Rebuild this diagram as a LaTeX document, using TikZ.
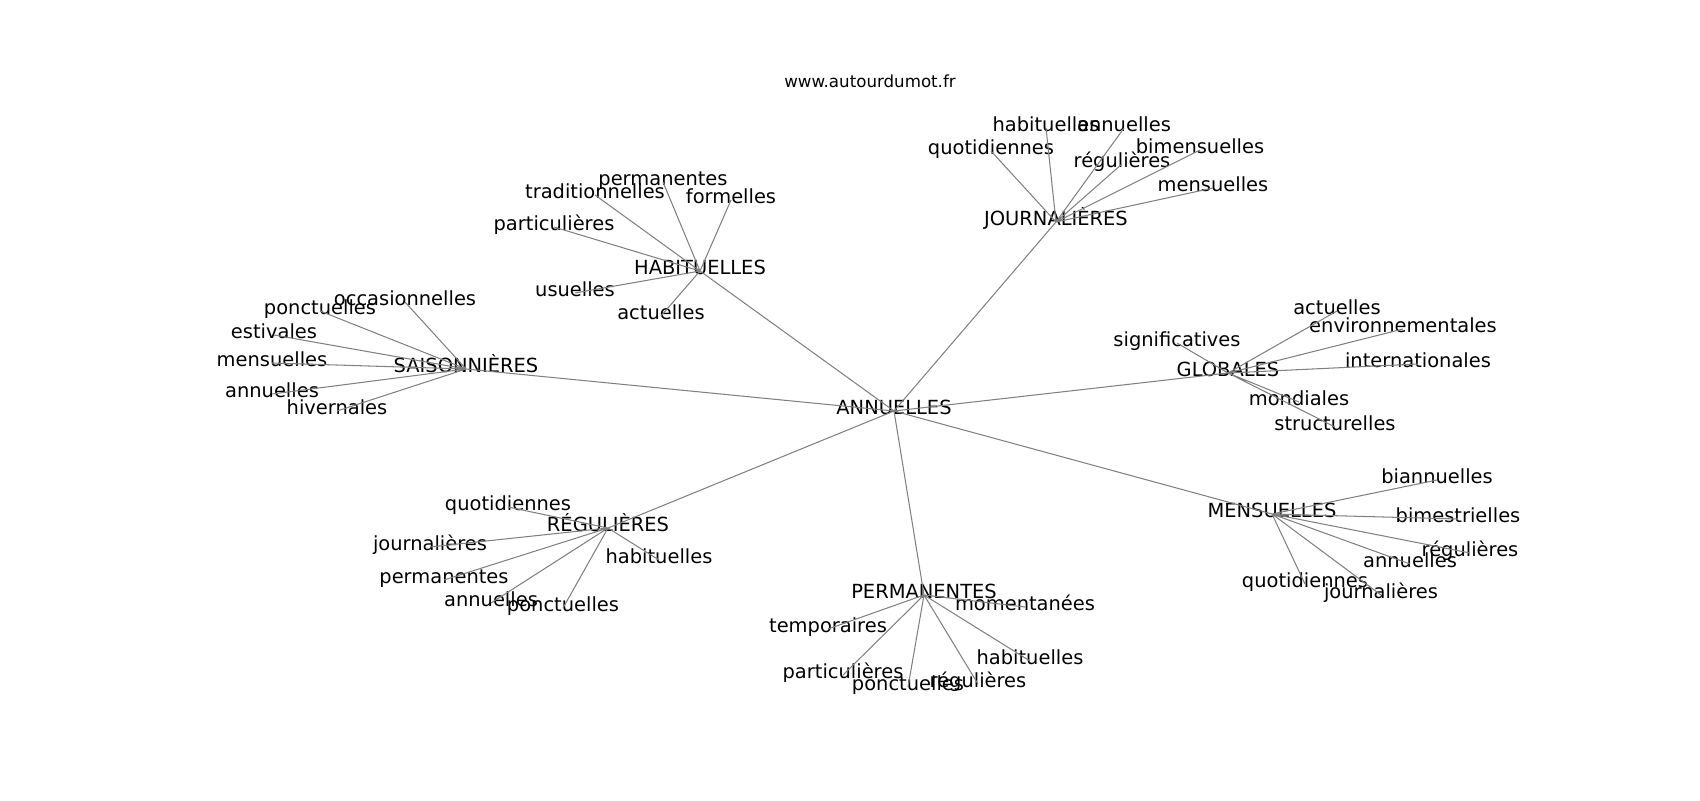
\documentclass[tikz,border=0pt]{standalone}
\usepackage{fontspec}
\setmainfont{DejaVu Sans}
\usepackage{xcolor}
\definecolor{EdgeGray}{HTML}{808080}
\tikzset{
  word/.style={inner sep=0pt,text height=0.76em,text depth=0.21em,
    font=\fontsize{14}{16}\selectfont},
  edge/.style={EdgeGray,line width=0.75pt}
}

\begin{document}
\begin{tikzpicture}[x=0.72pt,y=-0.72pt]
   \useasboundingbox (0,-4) rectangle (1700,796);
   \node[inner sep=0pt,font=\fontsize{12}{14}\selectfont] (site) at (870,77) {www.autourdumot.fr};

   % hubs
   \node[word] (ann) at (894,407) {ANNUELLES};
   \node[word] (hab) at (700,267) {HABITUELLES};
   \node[word] (jou) at (1056,218) {JOURNALIÈRES};
   \node[word] (sai) at (466,365) {SAISONNIÈRES};
   \node[word] (glo) at (1228,369) {GLOBALES};
   \node[word] (men) at (1272,510) {MENSUELLES};
   \node[word] (reg) at (608,524) {RÉGULIÈRES};
   \node[word] (per) at (924,591) {PERMANENTES};

   % habituelles
   \node[word] (habperm) at (663,178) {permanentes};
   \node[word] (habtrad) at (595,191) {traditionnelles};
   \node[word] (habform) at (731,196) {formelles};
   \node[word] (habpart) at (554,223) {particulières};
   \node[word] (habusu) at (575,289) {usuelles};
   \node[word] (habact) at (661,312) {actuelles};

   % saisonnieres
   \node[word] (saiocc) at (405,298) {occasionnelles};
   \node[word] (saiponc) at (320,307) {ponctuelles};
   \node[word] (saiest) at (274,331) {estivales};
   \node[word] (saimens) at (272,359) {mensuelles};
   \node[word] (saiann) at (272,390) {annuelles};
   \node[word] (saihiv) at (337,407) {hivernales};

   % journalieres
   \node[word] (jouhab) at (1046,124) {habituelles};
   \node[word] (jouann) at (1124,124) {annuelles};
   \node[word] (jouquot) at (991,147) {quotidiennes};
   \node[word] (joubim) at (1200,146) {bimensuelles};
   \node[word] (joureg) at (1122,160) {régulières};
   \node[word] (joumens) at (1213,184) {mensuelles};

   % globales
   \node[word] (gloact) at (1337,307) {actuelles};
   \node[word] (gloenv) at (1403,325) {environnementales};
   \node[word] (glosig) at (1177,339) {significatives};
   \node[word] (gloint) at (1418,360) {internationales};
   \node[word] (glomond) at (1299,398) {mondiales};
   \node[word] (glostr) at (1335,423) {structurelles};

   % mensuelles
   \node[word] (menbia) at (1437,476) {biannuelles};
   \node[word] (menbim) at (1458,515) {bimestrielles};
   \node[word] (menreg) at (1470,549) {régulières};
   \node[word] (menann) at (1410,560) {annuelles};
   \node[word] (menquot) at (1305,580) {quotidiennes};
   \node[word] (menjour) at (1381,591) {journalières};

   % regulieres
   \node[word] (regquot) at (508,503) {quotidiennes};
   \node[word] (regjour) at (430,543) {journalières};
   \node[word] (reghab) at (659,556) {habituelles};
   \node[word] (regperm) at (444,576) {permanentes};
   \node[word] (regann) at (491,599) {annuelles};
   \node[word] (regponc) at (563,604) {ponctuelles};

   % permanentes
   \node[word] (permom) at (1025,603) {momentanées};
   \node[word] (pertemp) at (828,625) {temporaires};
   \node[word] (perhab) at (1030,657) {habituelles};
   \node[word] (perpart) at (843,671) {particulières};
   \node[word] (perponc) at (908,683) {ponctuelles};
   \node[word] (perreg) at (978,680) {régulières};

   \draw[edge] (ann.center) -- (hab.center) (ann.center) -- (jou.center)
     (ann.center) -- (sai.center) (ann.center) -- (glo.center)
     (ann.center) -- (men.center) (ann.center) -- (reg.center)
     (ann.center) -- (per.center);
   \draw[edge] (hab.center) -- (habperm.center) (hab.center) -- (habtrad.center)
     (hab.center) -- (habform.center) (hab.center) -- (habpart.center)
     (hab.center) -- (habusu.center) (hab.center) -- (habact.center);
   \draw[edge] (sai.center) -- (saiocc.center) (sai.center) -- (saiponc.center)
     (sai.center) -- (saiest.center) (sai.center) -- (saimens.center)
     (sai.center) -- (saiann.center) (sai.center) -- (saihiv.center);
   \draw[edge] (jou.center) -- (jouhab.center) (jou.center) -- (jouann.center)
     (jou.center) -- (jouquot.center) (jou.center) -- (joubim.center)
     (jou.center) -- (joureg.center) (jou.center) -- (joumens.center);
   \draw[edge] (glo.center) -- (gloact.center) (glo.center) -- (gloenv.center)
     (glo.center) -- (glosig.center) (glo.center) -- (gloint.center)
     (glo.center) -- (glomond.center) (glo.center) -- (glostr.center);
   \draw[edge] (men.center) -- (menbia.center) (men.center) -- (menbim.center)
     (men.center) -- (menreg.center) (men.center) -- (menann.center)
     (men.center) -- (menquot.center) (men.center) -- (menjour.center);
   \draw[edge] (reg.center) -- (regquot.center) (reg.center) -- (regjour.center)
     (reg.center) -- (reghab.center) (reg.center) -- (regperm.center)
     (reg.center) -- (regann.center) (reg.center) -- (regponc.center);
   \draw[edge] (per.center) -- (permom.center) (per.center) -- (pertemp.center)
     (per.center) -- (perhab.center) (per.center) -- (perpart.center)
     (per.center) -- (perponc.center) (per.center) -- (perreg.center);
  \end{tikzpicture}
\end{document}
